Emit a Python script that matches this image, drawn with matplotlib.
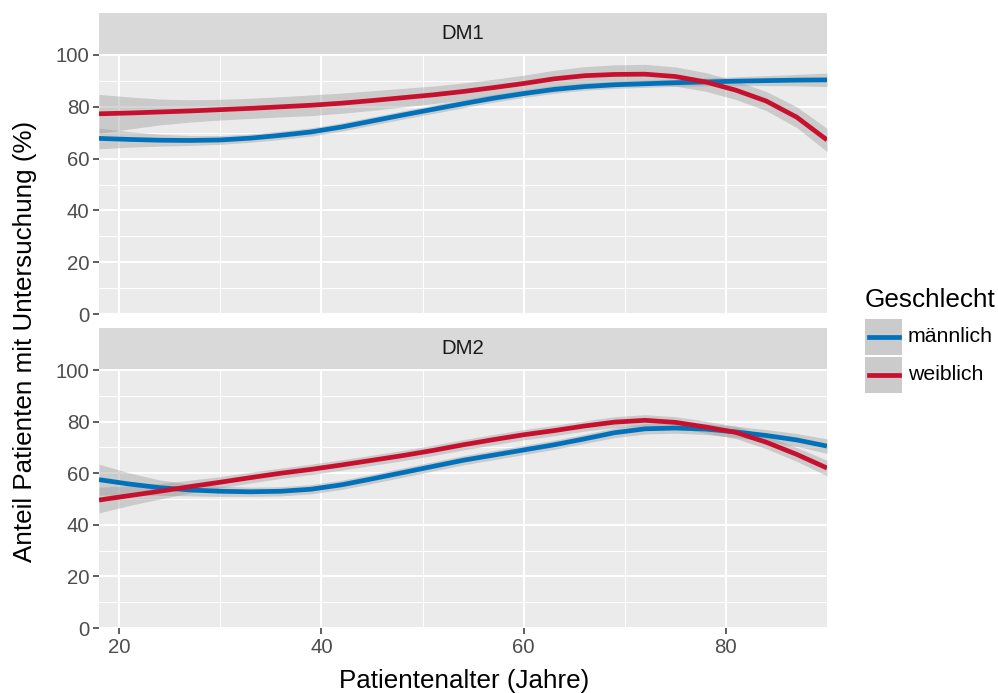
import numpy as np
import matplotlib
matplotlib.use('Agg')
import matplotlib.pyplot as plt
from matplotlib.patches import Rectangle
from matplotlib.lines import Line2D

plt.rcParams['font.family'] = ['Liberation Sans', 'DejaVu Sans']

# Alter (Jahre)
alter = [18, 21, 24, 27, 30, 33, 36, 39, 42, 45, 48, 51, 54,
         57, 60, 63, 66, 69, 72, 75, 78, 81, 84, 87, 90]

# DM1
dm1_m = [67.8, 67.4, 67.1, 67.0, 67.2, 67.9, 69.0, 70.3, 72.2, 74.5, 76.8, 79.0, 81.2,
         83.3, 85.1, 86.7, 87.8, 88.5, 88.9, 89.3, 89.6, 89.9, 90.1, 90.3, 90.4]
dm1_m_ci = [4.0, 3.0, 2.3, 1.9, 1.7, 1.6, 1.6, 1.6, 1.6, 1.6, 1.6, 1.6, 1.6,
            1.5, 1.5, 1.5, 1.4, 1.4, 1.4, 1.4, 1.5, 1.7, 1.9, 2.2, 2.6]
dm1_w = [77.3, 77.6, 78.0, 78.4, 78.9, 79.4, 80.0, 80.6, 81.4, 82.4, 83.5, 84.6, 85.9,
         87.4, 89.0, 90.8, 92.0, 92.5, 92.6, 91.7, 89.6, 86.4, 82.2, 76.0, 67.2]
dm1_w_ci = [7.5, 6.2, 5.0, 4.3, 4.0, 3.9, 3.9, 4.0, 3.9, 3.8, 3.6, 3.4, 3.3,
            3.2, 3.2, 3.3, 3.5, 3.7, 3.8, 3.7, 3.6, 3.6, 3.7, 4.0, 4.5]

# DM2
dm2_m = [57.5, 55.8, 54.4, 53.5, 53.0, 52.8, 53.0, 53.8, 55.5, 57.8, 60.2, 62.6, 65.0,
         67.0, 69.0, 71.0, 73.3, 75.7, 77.2, 77.5, 77.1, 76.0, 74.6, 72.9, 70.5]
dm2_m_ci = [6.0, 4.3, 3.0, 2.3, 2.0, 1.8, 1.8, 1.8, 1.8, 1.8, 1.8, 1.8, 1.8,
            1.8, 1.8, 1.8, 1.8, 1.9, 2.0, 2.0, 2.1, 2.2, 2.3, 2.5, 2.8]
dm2_w = [49.6, 51.3, 53.0, 54.8, 56.5, 58.3, 60.0, 61.5, 63.2, 65.0, 66.8, 68.8, 71.0,
         73.0, 74.9, 76.5, 78.3, 79.8, 80.5, 79.7, 77.9, 75.8, 72.0, 67.3, 62.0]
dm2_w_ci = [5.0, 3.8, 3.0, 2.5, 2.2, 2.1, 2.0, 2.0, 2.0, 2.0, 2.0, 2.0, 2.0,
            2.0, 2.0, 2.0, 2.0, 2.1, 2.2, 2.2, 2.3, 2.4, 2.5, 2.7, 3.0]

facetten = ['DM1', 'DM2']
gruppen = ['männlich', 'weiblich']
farben = ['#0072BB', '#C8102E']

daten = {
    'DM1': [(dm1_m, dm1_m_ci), (dm1_w, dm1_w_ci)],
    'DM2': [(dm2_m, dm2_m_ci), (dm2_w, dm2_w_ci)],
}

W, H = 998, 693
fig = plt.figure(figsize=(W / 100, H / 100), dpi=100)

def box(x0, y0, x1, y1):
    # pixel box (top-left origin) -> figure fraction
    return [x0 / W, 1 - y1 / H, (x1 - x0) / W, (y1 - y0) / H]

panels = [(13, 55, 314), (328, 370, 628)]
x = np.array(alter)

for (s_top, p_top, p_bot), name in zip(panels, facetten):
    ax = fig.add_axes(box(99, p_top, 827, p_bot))
    ax.set_facecolor('#EBEBEB')
    for sp in ax.spines.values():
        sp.set_visible(False)
    ax.set_xlim(18, 90)
    ax.set_ylim(0, 100)
    ax.set_xticks([20, 40, 60, 80])
    ax.set_xticks([30, 50, 70, 90], minor=True)
    ax.set_yticks([0, 20, 40, 60, 80, 100])
    ax.set_yticks([10, 30, 50, 70, 90], minor=True)
    ax.grid(which='major', color='white', linewidth=1.4)
    ax.grid(which='minor', color='white', linewidth=0.7)
    ax.set_axisbelow(True)
    ax.tick_params(which='major', length=4, width=1.1, color='#333333',
                   labelsize=14.7, labelcolor='#4D4D4D', pad=3)
    ax.tick_params(which='minor', length=0)
    if name == 'DM1':
        ax.tick_params(axis='x', which='major', length=0, labelbottom=False)
    for (y, ci), col in zip(daten[name], farben):
        y = np.array(y)
        ci = np.array(ci)
        ax.fill_between(x, y - ci, y + ci, color='#999999', alpha=0.4, linewidth=0)
        ax.plot(x, y, color=col, linewidth=3.4, solid_capstyle='butt')

    st = fig.add_axes(box(99, s_top, 827, p_top - 1))
    st.set_facecolor('#D9D9D9')
    st.set_xticks([])
    st.set_yticks([])
    for sp in st.spines.values():
        sp.set_visible(False)
    st.text(0.5, 0.5, name, ha='center', va='center', fontsize=14.7, color='#1A1A1A')

fig.text(464 / W, 1 - 681 / H, 'Patientenalter (Jahre)', ha='center', va='center',
         fontsize=18.7, color='black')
fig.text(25 / W, 1 - 341 / H, 'Anteil Patienten mit Untersuchung (%)', ha='center',
         va='center', rotation=90, fontsize=18.7, color='black')

# Legende
fig.text(865 / W, 1 - 300 / H, 'Geschlecht', ha='left', va='center', fontsize=18.8)
for i, (lab, col) in enumerate(zip(gruppen, farben)):
    y0 = 318 + i * 38
    fig.patches.append(Rectangle((865 / W, 1 - (y0 + 37) / H), 37 / W, 36 / H,
                                 transform=fig.transFigure, facecolor='#CBCBCB',
                                 edgecolor='none'))
    fig.lines.append(Line2D([869 / W, 899 / W], [1 - (y0 + 19) / H] * 2,
                            transform=fig.transFigure, color=col, linewidth=3.4))
    fig.text(908 / W, 1 - (y0 + 19) / H, lab, ha='left', va='center', fontsize=15.3)

fig.savefig('out.png', dpi=100)
